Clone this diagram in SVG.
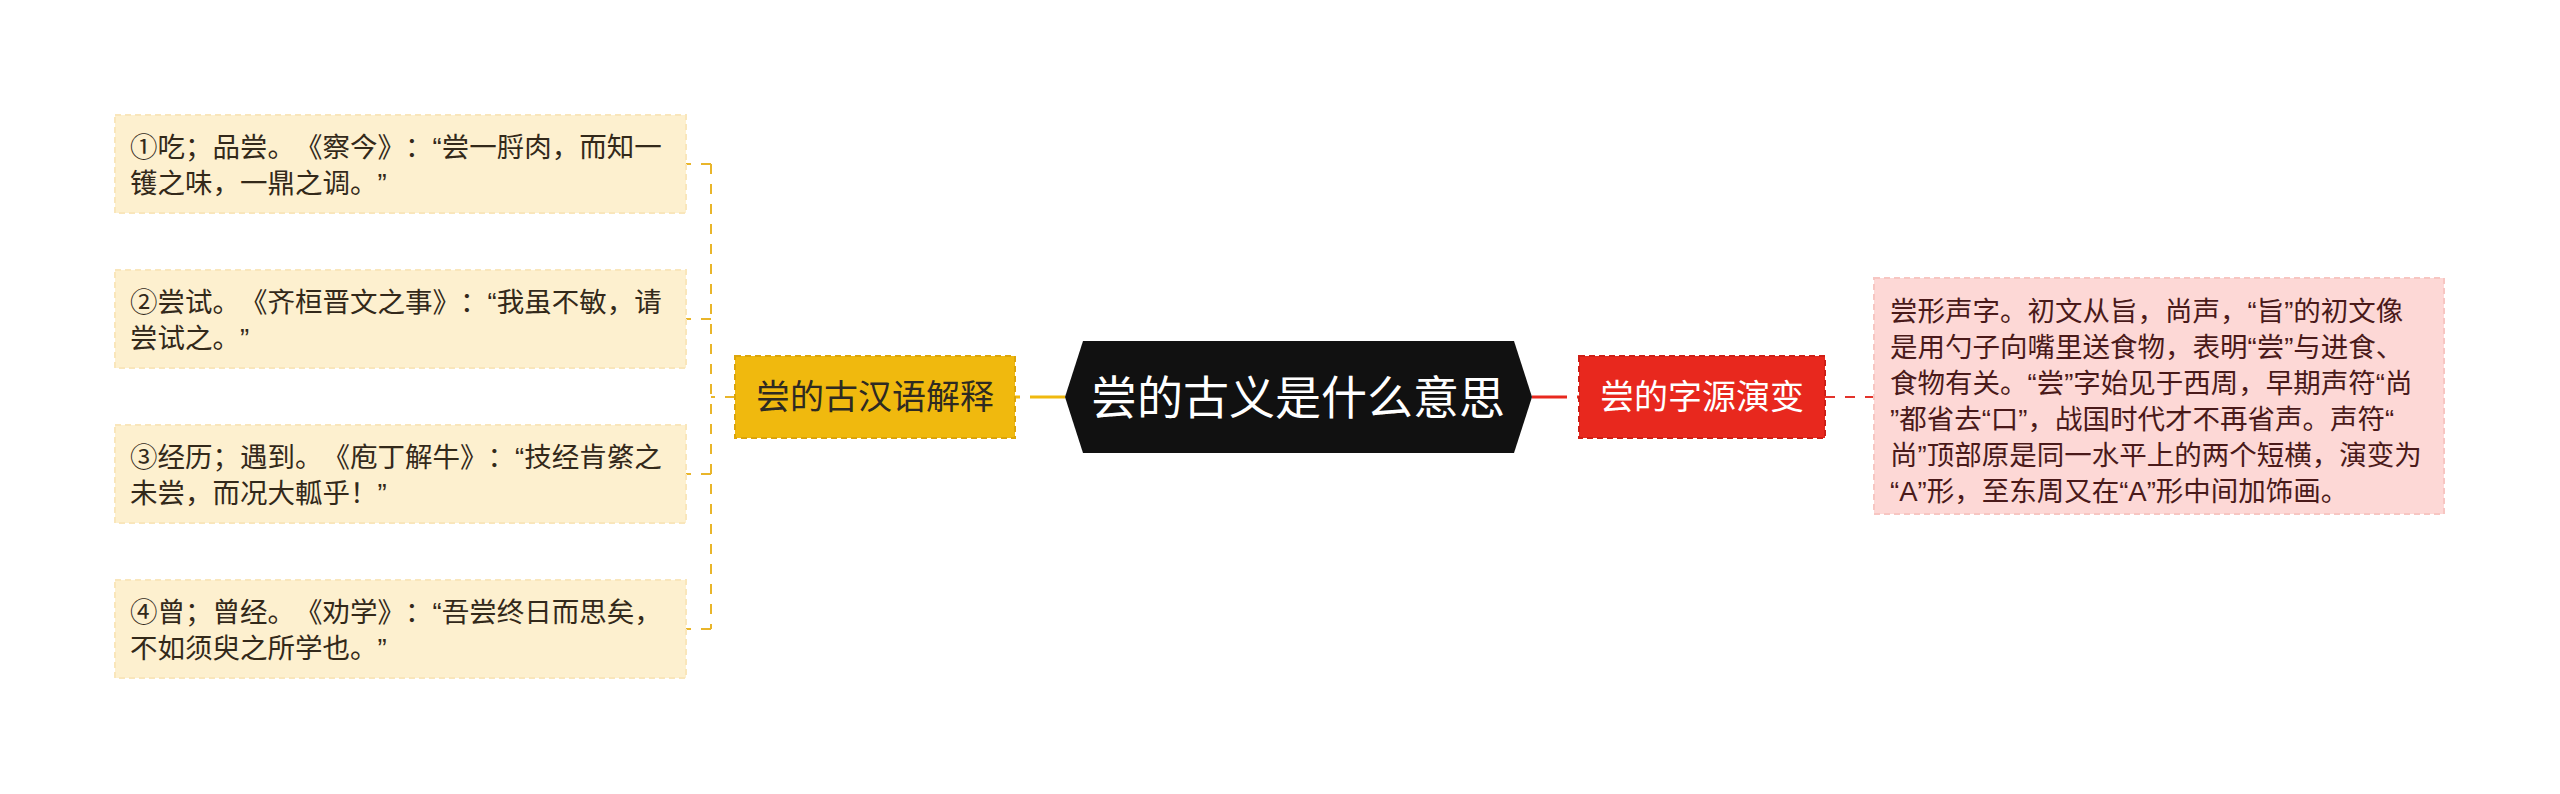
<svg xmlns="http://www.w3.org/2000/svg" width="2560" height="794" viewBox="0 0 2560 794">
<style>
text{font-family:"Liberation Sans","Noto Sans CJK SC",sans-serif;text-spacing-trim:space-all}
.leaf{fill:#fdf0cf;stroke:#f9e6bb;stroke-width:2;stroke-dasharray:6 4}
.leaft{font-size:27.5px;fill:#33291a}
.rleaf{fill:#fdd8d6;stroke:#f7c6c2;stroke-width:2;stroke-dasharray:6 4}
.rleaft{font-size:27.5px;fill:#4a1a1a}
.ycon{fill:none;stroke:#e9b52a;stroke-width:2;stroke-dasharray:10 10}
.rcon{fill:none;stroke:#e3332b;stroke-width:2;stroke-dasharray:10 10}
.br{font-size:34px;text-anchor:middle}
</style>
<rect width="2560" height="794" fill="#ffffff"/>
<g id="connectors">
<path d="M1065 397H1015" fill="none" stroke="#f0b90e" stroke-width="3" stroke-dasharray="35 10"/>
<path d="M1532 397H1579" fill="none" stroke="#e8281e" stroke-width="3" stroke-dasharray="35 10"/>
<path class="ycon" d="M735 397H711"/>
<path class="ycon" d="M711 164V629"/>
<path class="ycon" d="M711 164H686"/>
<path class="ycon" d="M711 319H686"/>
<path class="ycon" d="M711 474H686"/>
<path class="ycon" d="M711 629H686"/>
<path class="rcon" d="M1825 397H1874"/>
</g>
<g id="center">
<polygon points="1065,397 1083,341 1514,341 1532,397 1514,453 1083,453" fill="#111111"/>
<text x="1298" y="414" font-size="46" fill="#ffffff" text-anchor="middle">尝的古义是什么意思</text>
</g>
<g id="branch-left">
<rect x="735" y="356" width="280" height="82" fill="#f0b90e" stroke="#dca50a" stroke-width="2" stroke-dasharray="6 4"/>
<text class="br" x="875" y="409" fill="#2e2a22">尝的古汉语解释</text>
</g>
<g id="branch-right">
<rect x="1579" y="356" width="246" height="82" fill="#e8281e" stroke="#cf1f16" stroke-width="2" stroke-dasharray="6 4"/>
<text class="br" x="1702" y="409" fill="#ffffff">尝的字源演变</text>
</g>
<g id="leaf1">
<rect class="leaf" x="115" y="115" width="571" height="98"/>
<text class="leaft"><tspan x="130" y="156.5">①吃；品尝。《察今》：“尝一脟肉，而知一</tspan><tspan x="130" y="192.5">镬之味，一鼎之调。”</tspan></text>
</g>
<g id="leaf2">
<rect class="leaf" x="115" y="270" width="571" height="98"/>
<text class="leaft"><tspan x="130" y="311.5">②尝试。《齐桓晋文之事》：“我虽不敏，请</tspan><tspan x="130" y="347.5">尝试之。”</tspan></text>
</g>
<g id="leaf3">
<rect class="leaf" x="115" y="425" width="571" height="98"/>
<text class="leaft"><tspan x="130" y="466.5">③经历；遇到。《庖丁解牛》：“技经肯綮之</tspan><tspan x="130" y="502.5">未尝，而况大軱乎！”</tspan></text>
</g>
<g id="leaf4">
<rect class="leaf" x="115" y="580" width="571" height="98"/>
<text class="leaft"><tspan x="130" y="621.5">④曾；曾经。《劝学》：“吾尝终日而思矣，</tspan><tspan x="130" y="657.5">不如须臾之所学也。”</tspan></text>
</g>
<g id="leaf-right">
<rect class="rleaf" x="1874" y="278" width="570" height="236"/>
<text class="rleaft"><tspan x="1890" y="321">尝形声字。初文从旨，尚声，“旨”的初文像</tspan><tspan x="1890" y="357">是用勺子向嘴里送食物，表明“尝”与进食、</tspan><tspan x="1890" y="393">食物有关。“尝”字始见于西周，早期声符“尚</tspan><tspan x="1890" y="429">”都省去“口”，战国时代才不再省声。声符“</tspan><tspan x="1890" y="465">尚”顶部原是同一水平上的两个短横，演变为</tspan><tspan x="1890" y="501">“A”形，至东周又在“A”形中间加饰画。</tspan></text>
</g>
</svg>
